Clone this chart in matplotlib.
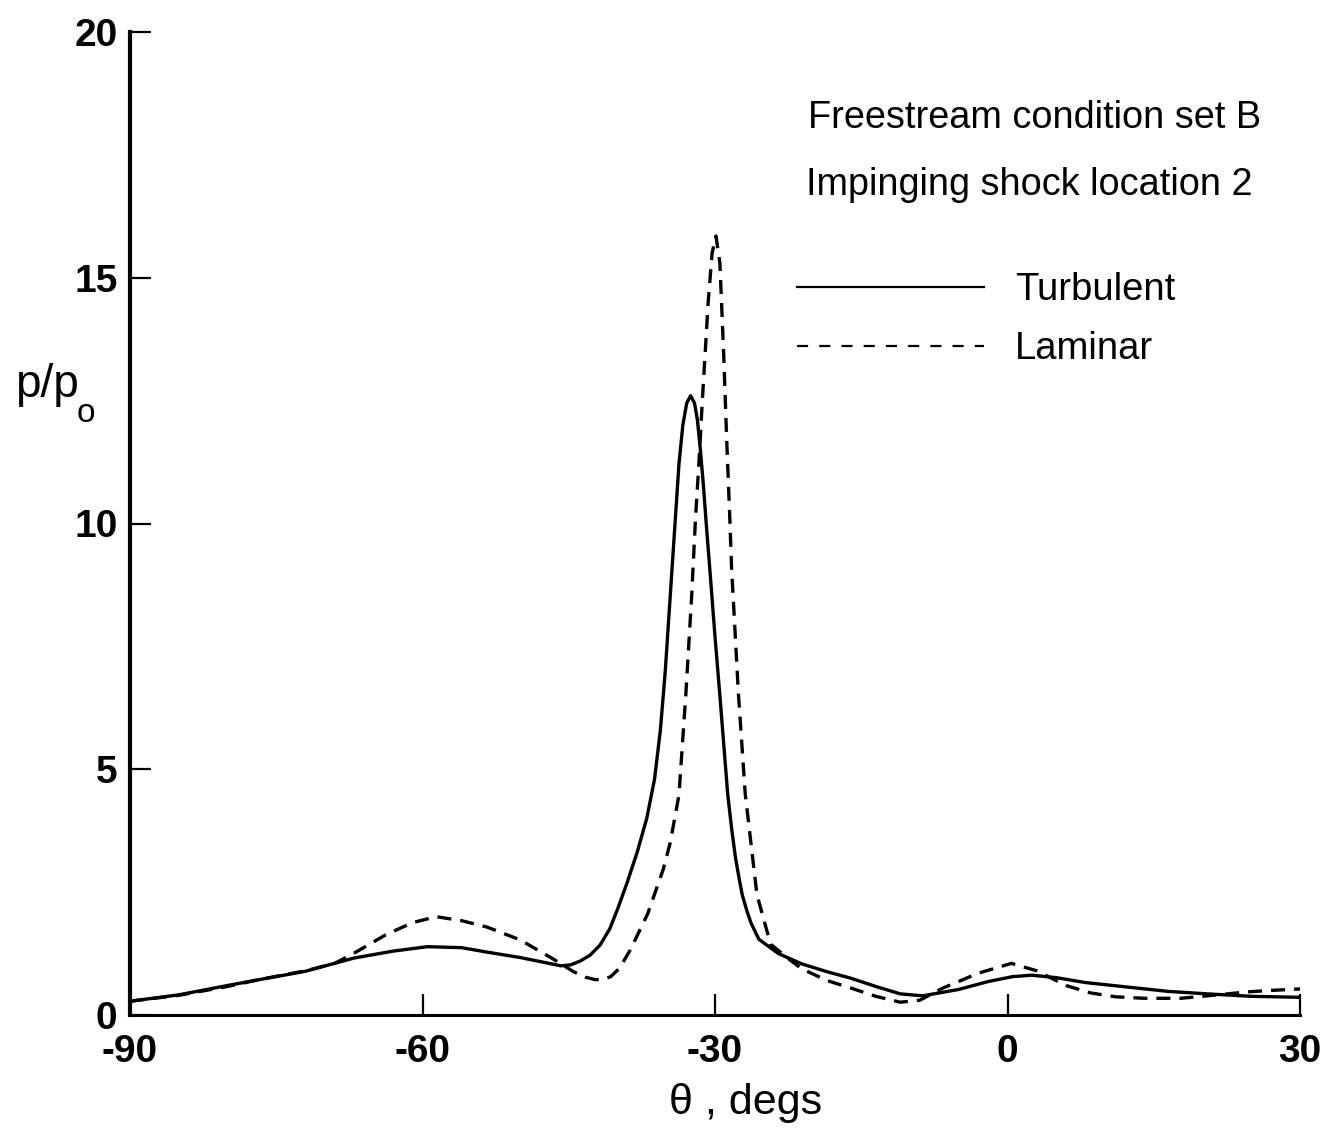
import matplotlib.pyplot as plt
from matplotlib.lines import Line2D

plt.rcParams['font.family'] = ['Liberation Sans', 'DejaVu Sans']

# ---- data ----
theta_turb = [-90, -85, -80, -77, -72, -67, -63, -59.5, -56, -53.4, -50, -47.5,
              -45.8, -44.8, -43.8, -42.8, -41.8, -40.8, -40, -39, -38, -37,
              -36.2, -35.6, -35.1, -34.6, -34.1, -33.7, -33.3, -32.9, -32.5, -32.1,
              -31.8, -31.5, -31.2, -30.9, -30.5, -30.0, -29.5, -29.1, -28.7, -28.3,
              -27.9, -27.5, -27.2, -26.7, -26.3, -25.5, -23.5, -21.1, -18.5, -16.1,
              -13.5, -11, -8.7, -5, -2, 0.5, 2.5, 5, 8, 12.7, 16.5, 20.5, 25, 30]
p_turb = [0.28, 0.41, 0.6, 0.71, 0.89, 1.16, 1.3, 1.39, 1.37, 1.28, 1.17, 1.07,
          1.0, 1.02, 1.1, 1.22, 1.42, 1.75, 2.15, 2.7, 3.3, 4.0,
          4.8, 5.8, 7.0, 8.5, 10.0, 11.2, 12.0, 12.45, 12.6, 12.45,
          12.1, 11.5, 10.8, 10.0, 8.99, 7.7, 6.5, 5.5, 4.5, 3.8,
          3.2, 2.75, 2.44, 2.1, 1.87, 1.54, 1.25, 1.04, 0.88, 0.75,
          0.58, 0.43, 0.39, 0.52, 0.68, 0.78, 0.81, 0.76, 0.66, 0.56, 0.48, 0.43, 0.38, 0.36]

theta_lam = [-90, -85, -80, -77, -72, -69, -67, -63.7, -61, -58.6, -56, -53.4,
             -50, -46.6, -44.5, -43.3, -42.3, -41.5, -40.7, -39.8, -38.7, -36.9,
             -35.3, -34.6, -33.7, -33.0, -32.4, -32.0, -31.6, -31.3, -31.0, -30.7,
             -30.3, -29.9, -29.5, -29.1, -28.8, -28.5, -28.3, -27.6, -26.9, -25.7,
             -24.3, -22.5, -21.1, -18.5, -16.1, -13.5, -11, -9, -6.6, -3, 0.4, 3,
             6, 8.5, 11.1, 14, 17.8, 21, 24.6, 27, 30]
p_lam = [0.28, 0.4, 0.58, 0.71, 0.9, 1.05, 1.26, 1.64, 1.88, 2.0, 1.92, 1.79,
         1.53, 1.14, 0.88, 0.77, 0.72, 0.72, 0.78, 0.95, 1.32, 2.06,
         2.97, 3.5, 4.47, 6.5, 8.5, 10.1, 11.4, 12.5, 13.5, 14.5,
         15.5, 15.85, 15.3, 13.4, 11.7, 10.2, 9.1, 6.54, 4.5, 2.45,
         1.44, 1.15, 0.94, 0.7, 0.55, 0.38, 0.26, 0.3, 0.55, 0.85, 1.05, 0.9,
         0.6, 0.45, 0.37, 0.34, 0.34, 0.4, 0.47, 0.5, 0.53]

x_ticks = [-90, -60, -30, 0, 30]
y_ticks = [0, 5, 10, 15, 20]
series_labels = ["Turbulent", "Laminar"]
note_lines = ["Freestream condition set B", "Impinging shock location 2"]

W, H = 1324, 1135
fig = plt.figure(figsize=(W / 100, H / 100), dpi=100)
ax = fig.add_axes([130 / W, 1 - 1015 / H, 1170 / W, 983 / H])

ax.plot(theta_turb, p_turb, color='black', lw=2.4, solid_joinstyle='round')
ax.plot(theta_lam, p_lam, color='black', lw=2.4, linestyle=(0, (4.2, 2.7)))

ax.set_xlim(-90, 30)
ax.set_ylim(0, 20)
ax.set_xticks(x_ticks)
ax.set_yticks(y_ticks)
ax.set_xticklabels([str(v) for v in x_ticks], fontsize=28, fontweight='bold')
ax.set_yticklabels([str(v) for v in y_ticks], fontsize=28, fontweight='bold')
ax.tick_params(axis='both', direction='in', length=15, width=1.6, color='black')
ax.tick_params(axis='x', pad=14)
ax.tick_params(axis='y', pad=9)

for side in ['top', 'right']:
    ax.spines[side].set_visible(False)
ax.spines['left'].set_linewidth(3)
ax.spines['bottom'].set_linewidth(2.2)

# axis titles
fig.text(15 / W, 1 - 397 / H, 'p/p', fontsize=33, ha='left', va='baseline')
fig.text(77 / W, 1 - 422 / H, 'o', fontsize=24, ha='left', va='baseline')
fig.text(746 / W, 1 - 1103 / H, 'θ , degs', fontsize=31, ha='center', va='center')

# annotation text
fig.text(808 / W, 1 - 118 / H, note_lines[0], fontsize=27.3, ha='left', va='center')
fig.text(806 / W, 1 - 185 / H, note_lines[1], fontsize=27.3, ha='left', va='center')

handles = [Line2D([], [], color='black', lw=1.6),
           Line2D([], [], color='black', lw=1.6, linestyle=(0, (5, 5)))]
fig.legend(handles, series_labels, loc='upper left',
           bbox_to_anchor=(797 / W, 1 - 272 / H), frameon=False, fontsize=27.5,
           handlelength=4.9, handletextpad=0.8, labelspacing=0.6,
           borderaxespad=0, borderpad=0)

fig.savefig('out.png', dpi=100)
